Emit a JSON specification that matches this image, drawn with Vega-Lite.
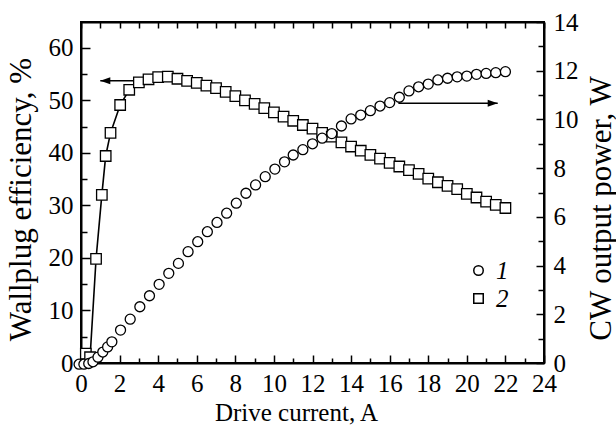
{
  "$schema": "https://vega.github.io/schema/vega-lite/v6.json",
  "width": 463,
  "height": 341,
  "autosize": {"type": "none"},
  "padding": {"left": 81, "top": 22, "right": 72, "bottom": 63},
  "background": "white",
  "config": {
    "view": {"stroke": "black", "strokeWidth": 2},
    "font": "Liberation Serif",
    "axis": {
      "domainColor": "black", "domainWidth": 2, "tickColor": "black", "tickWidth": 1.5,
      "labelFont": "Liberation Serif", "labelFontSize": 25, "labelColor": "black", "labelOverlap": false,
      "titleFont": "Liberation Serif", "titleFontWeight": "normal", "titleColor": "black",
      "grid": false
    }
  },
  "datasets": {
    "eff": [
      {"I": 0.25, "eff": 1.8}, {"I": 0.47, "eff": 1.1}, {"I": 0.78, "eff": 19.8}, {"I": 1.08, "eff": 32.0},
      {"I": 1.28, "eff": 39.4}, {"I": 1.53, "eff": 43.8}, {"I": 2.03, "eff": 49.1}, {"I": 2.5, "eff": 52.0},
      {"I": 3.0, "eff": 53.4}, {"I": 3.5, "eff": 54.0}, {"I": 4.0, "eff": 54.4}, {"I": 4.5, "eff": 54.5},
      {"I": 5.0, "eff": 54.1}, {"I": 5.5, "eff": 53.7}, {"I": 6.0, "eff": 53.3}, {"I": 6.5, "eff": 52.8},
      {"I": 7.0, "eff": 52.3}, {"I": 7.5, "eff": 51.6}, {"I": 8.0, "eff": 50.8}, {"I": 8.5, "eff": 50.0},
      {"I": 9.0, "eff": 49.3}, {"I": 9.5, "eff": 48.5}, {"I": 10.0, "eff": 47.7}, {"I": 10.5, "eff": 46.9},
      {"I": 11.0, "eff": 46.1}, {"I": 11.5, "eff": 45.3}, {"I": 12.0, "eff": 44.6}, {"I": 12.5, "eff": 43.8},
      {"I": 13.0, "eff": 43.1}, {"I": 13.5, "eff": 42.0}, {"I": 14.0, "eff": 41.2}, {"I": 14.5, "eff": 40.4},
      {"I": 15.0, "eff": 39.6}, {"I": 15.5, "eff": 38.9}, {"I": 16.0, "eff": 38.1}, {"I": 16.5, "eff": 37.4},
      {"I": 17.0, "eff": 36.7}, {"I": 17.5, "eff": 36.0}, {"I": 18.0, "eff": 35.1}, {"I": 18.5, "eff": 34.4},
      {"I": 19.0, "eff": 33.7}, {"I": 19.5, "eff": 33.1}, {"I": 20.0, "eff": 32.2}, {"I": 20.5, "eff": 31.5},
      {"I": 21.0, "eff": 30.7}, {"I": 21.5, "eff": 30.1}, {"I": 22.0, "eff": 29.5}
    ],
    "pow": [
      {"I": -0.1, "W": -0.05}, {"I": 0.15, "W": -0.05}, {"I": 0.4, "W": -0.02}, {"I": 0.62, "W": 0.05},
      {"I": 0.88, "W": 0.24}, {"I": 1.13, "W": 0.45}, {"I": 1.38, "W": 0.66}, {"I": 1.6, "W": 0.87},
      {"I": 2.05, "W": 1.35}, {"I": 2.55, "W": 1.8}, {"I": 3.05, "W": 2.31}, {"I": 3.55, "W": 2.76},
      {"I": 4.05, "W": 3.23}, {"I": 4.55, "W": 3.68}, {"I": 5.05, "W": 4.09}, {"I": 5.55, "W": 4.57},
      {"I": 6.05, "W": 4.98}, {"I": 6.55, "W": 5.39}, {"I": 7.05, "W": 5.77}, {"I": 7.55, "W": 6.15},
      {"I": 8.05, "W": 6.56}, {"I": 8.55, "W": 6.97}, {"I": 9.05, "W": 7.31}, {"I": 9.55, "W": 7.65},
      {"I": 10.05, "W": 7.96}, {"I": 10.55, "W": 8.26}, {"I": 11.0, "W": 8.54}, {"I": 11.5, "W": 8.76},
      {"I": 12.0, "W": 9.0}, {"I": 12.5, "W": 9.23}, {"I": 13.0, "W": 9.42}, {"I": 13.5, "W": 9.73},
      {"I": 14.0, "W": 10.02}, {"I": 14.5, "W": 10.18}, {"I": 15.0, "W": 10.36}, {"I": 15.5, "W": 10.55},
      {"I": 16.0, "W": 10.69}, {"I": 16.5, "W": 10.91}, {"I": 17.0, "W": 11.17}, {"I": 17.5, "W": 11.34},
      {"I": 18.0, "W": 11.45}, {"I": 18.5, "W": 11.62}, {"I": 19.0, "W": 11.69}, {"I": 19.5, "W": 11.75},
      {"I": 20.0, "W": 11.78}, {"I": 20.5, "W": 11.85}, {"I": 21.0, "W": 11.89}, {"I": 21.5, "W": 11.92},
      {"I": 22.0, "W": 11.96}
    ],
    "arrL": [{"I": 1.0, "I2": 4.45, "eff": 53.7}],
    "arrR": [{"I": 21.6, "I2": 16.45, "W": 10.66}]
  },
  "layer": [
    {
      "encoding": {
        "x": {"field": "I", "type": "quantitative",
          "scale": {"domain": [0, 24], "nice": false},
          "axis": {"orient": "bottom", "title": "Drive current, A", "values": [0,1,2,3,4,5,6,7,8,9,10,11,12,13,14,15,16,17,18,19,20,21,22,23,24],
            "labelExpr": "datum.value % 2 === 0 ? datum.label : ''", "labelOverlap": false, "labelSeparation": -60,
            "tickSize": {"condition": {"test": "datum.value % 2 === 0", "value": -8}, "value": -5},
            "labelPadding": 16, "titleFontSize": 25, "titleX": 215, "titleY": 57, "titleBaseline": "alphabetic", "labelFlush": false}},
        "y": {"field": "eff", "type": "quantitative",
          "scale": {"domain": [0, 64.9], "nice": false, "zero": true},
          "axis": {"orient": "left", "title": "Wallplug efficiency, %", "values": [0,5,10,15,20,25,30,35,40,45,50,55,60],
            "labelExpr": "datum.value % 10 === 0 ? datum.label : ''", "labelOverlap": false,
            "tickSize": {"condition": {"test": "datum.value % 10 === 0", "value": -9}, "value": -6},
            "labelPadding": 17, "titleFontSize": 31, "titleX": -51, "titleY": 177, "titleBaseline": "alphabetic", "titleAngle": -90, "labelFlush": false}}
      },
      "layer": [
        {
          "data": {"name": "arrL"},
          "mark": {"type": "rule", "color": "black", "strokeWidth": 1.5},
          "encoding": {"x2": {"field": "I2"}}
        },
        {
          "data": {"name": "arrL"},
          "mark": {"type": "point", "shape": "M 0 0 L 1 -0.35 L 1 0.35 Z", "filled": true, "color": "black", "size": 400, "opacity": 1},
          "encoding": {}
        },
        {
          "data": {"name": "eff"},
          "mark": {"type": "line", "color": "black", "strokeWidth": 1.6},
          "encoding": {}
        },
        {
          "data": {"name": "eff"},
          "mark": {"type": "point", "filled": false, "fill": "white", "fillOpacity": 1, "stroke": "black", "strokeWidth": 1.3, "opacity": 1, "size": 110},
          "encoding": {
            "shape": {"datum": "2", "type": "nominal",
              "scale": {"domain": ["1", "2"], "range": ["circle", "square"]},
              "legend": {"orient": "none", "legendX": 385, "legendY": 236, "title": null,
                "labelFont": "Liberation Serif", "labelFontSize": 25, "labelFontStyle": "italic", "labelColor": "black",
                "symbolSize": 90, "rowPadding": 2, "labelOffset": 5,
                "encode": {"symbols": {"update": {"fill": {"value": "white"}, "stroke": {"value": "black"}, "strokeWidth": {"value": 1.3}, "opacity": {"value": 1}, "fillOpacity": {"value": 1}}}}}}
          }
        }
      ]
    },
    {
      "encoding": {
        "x": {"field": "I", "type": "quantitative",
          "axis": {"orient": "top", "title": null, "labels": false, "values": [0,1,2,3,4,5,6,7,8,9,10,11,12,13,14,15,16,17,18,19,20,21,22,23,24], "tickSize": -6}},
        "y": {"field": "W", "type": "quantitative",
          "scale": {"domain": [0, 14], "nice": false},
          "axis": {"orient": "right", "title": "CW output power, W", "values": [0,1,2,3,4,5,6,7,8,9,10,11,12,13,14],
            "labelExpr": "datum.value % 2 === 0 ? datum.label : ''", "labelOverlap": false,
            "tickSize": {"condition": {"test": "datum.value % 2 === 0", "value": -8}, "value": -6},
            "labelPadding": 17, "titleFontSize": 31, "titleX": 66, "titleY": 186, "titleBaseline": "alphabetic", "titleAngle": -90, "labelFlush": false}}
      },
      "layer": [
        {
          "data": {"name": "arrR"},
          "mark": {"type": "rule", "color": "black", "strokeWidth": 1.5},
          "encoding": {"x2": {"field": "I2"}}
        },
        {
          "data": {"name": "arrR"},
          "mark": {"type": "point", "shape": "M 0 0 L -1 -0.35 L -1 0.35 Z", "filled": true, "color": "black", "size": 400, "opacity": 1},
          "encoding": {}
        },
        {
          "data": {"name": "pow"},
          "mark": {"type": "point", "filled": false, "fill": "white", "fillOpacity": 1, "stroke": "black", "strokeWidth": 1.3, "opacity": 1, "size": 100},
          "encoding": {"shape": {"datum": "1", "type": "nominal"}}
        }
      ]
    }
  ],
  "resolve": {"scale": {"y": "independent"}, "axis": {"x": "independent", "y": "independent"}}
}
